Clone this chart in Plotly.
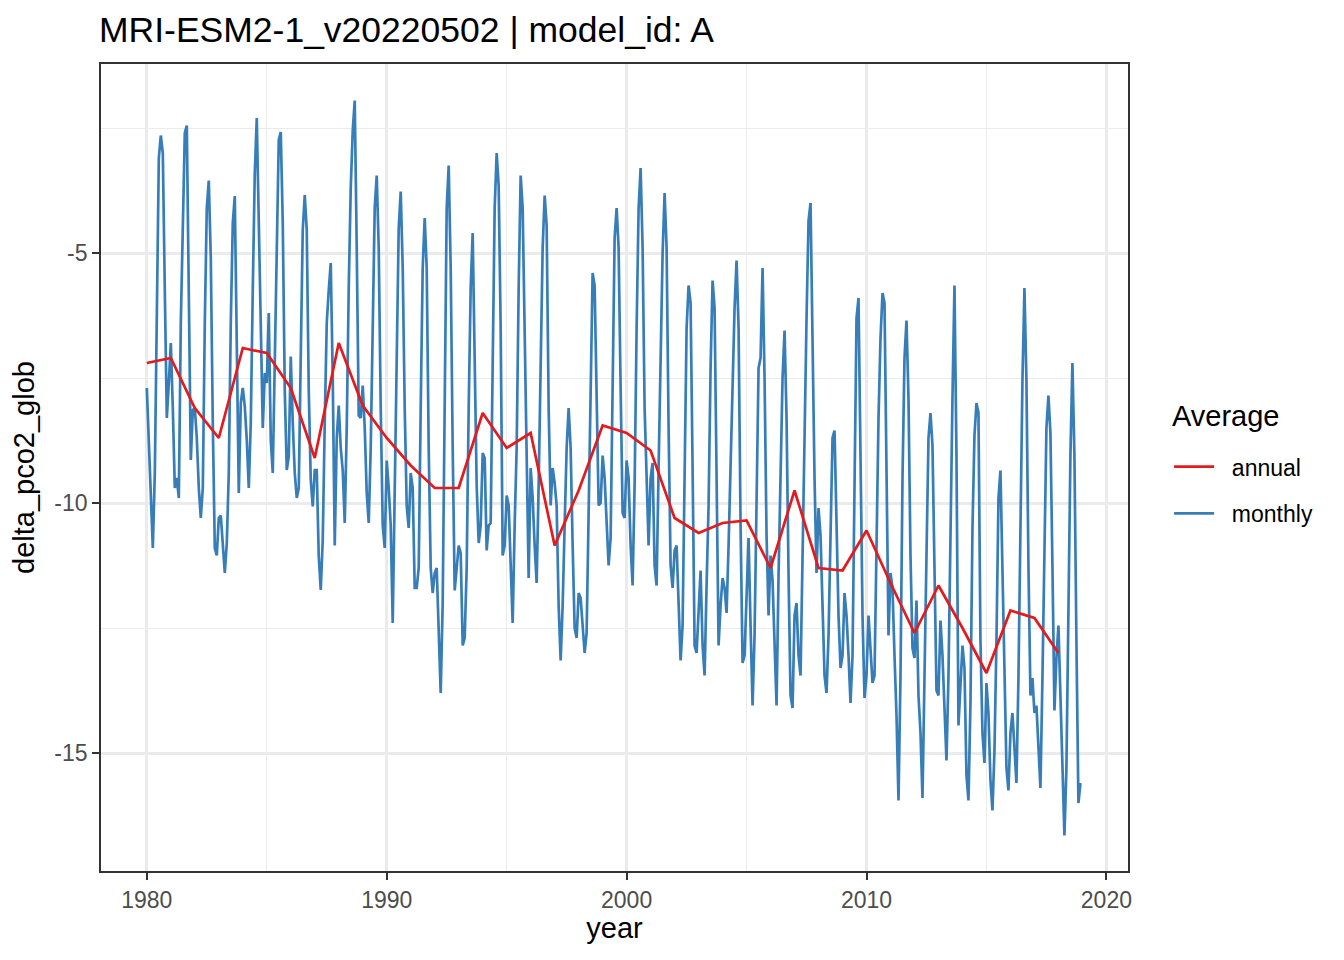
import plotly.graph_objects as go

# annual means, one value per year starting 1980
annual_years = list(range(1980, 2019))
annual_values = [
    -7.2, -7.1, -8.1, -8.7, -6.9, -7.0, -7.7, -9.1, -6.8, -8.05,
    -8.7, -9.25, -9.7, -9.7, -8.2, -8.9, -8.6, -10.85, -9.75, -8.45,
    -8.6, -8.95, -10.3, -10.6, -10.4, -10.35, -11.3, -9.75, -11.3, -11.35,
    -10.55, -11.6, -12.6, -11.65, -12.5, -13.4, -12.15, -12.3, -13.0,
]

# monthly values, 12 per row (Jan..Dec), 1980..2018
monthly_values = [
    -7.7, -8.74, -9.9, -10.9, -9.4, -6.1, -3.1, -2.65, -3.0, -5.75, -8.3, -7.6,
    -6.8, -8.1, -9.7, -9.5, -9.9, -6.4, -4.1, -2.6, -2.45, -6.4, -9.14, -8.14,
    -8.1, -8.7, -9.7, -10.3, -9.7, -6.4, -4.1, -3.55, -5.1, -8.4, -10.9, -11.05,
    -10.3, -10.25, -10.95, -11.4, -10.8, -9.4, -6.4, -4.4, -3.86, -6.7, -9.8, -8.0,
    -7.7, -8.07, -8.74, -9.7, -8.4, -5.74, -3.4, -2.3, -4.4, -7.07, -8.5, -7.4,
    -7.6, -6.2, -8.74, -9.4, -7.07, -4.4, -2.74, -2.58, -4.4, -7.74, -9.34, -9.07,
    -7.07, -8.4, -9.4, -9.9, -9.7, -7.07, -4.54, -3.84, -4.54, -7.74, -9.54, -10.07,
    -9.34, -9.34, -11.07, -11.74, -10.74, -8.4, -6.4, -5.74, -5.2, -7.5, -10.85, -8.7,
    -8.05, -8.9, -9.35, -10.4, -8.5, -5.7, -3.7, -2.55, -1.95, -4.9, -8.25, -8.3,
    -7.65, -8.5, -9.8, -10.4, -8.9, -6.5, -4.1, -3.45, -4.9, -8.1, -10.45, -10.9,
    -9.15, -9.7, -10.45, -12.4, -9.7, -6.5, -4.5, -3.77, -5.3, -8.1, -10.06, -10.5,
    -9.4, -9.7, -11.7, -11.7, -11.3, -8.1, -5.3, -4.3, -5.3, -8.9, -11.3, -11.8,
    -11.4, -11.3, -12.5, -13.8, -12.0, -8.1, -4.1, -3.25, -5.3, -8.9, -11.75, -11.3,
    -10.85, -11.0, -12.85, -12.7, -11.3, -8.1, -5.7, -4.6, -7.3, -9.65, -10.8, -10.45,
    -9.0, -9.1, -10.95, -10.45, -10.4, -7.3, -4.1, -3.0, -3.65, -6.5, -11.05, -10.85,
    -9.85, -10.05, -11.25, -12.4, -10.45, -8.9, -5.7, -3.45, -4.1, -6.5, -8.9, -11.5,
    -9.3, -9.9, -10.85, -11.6, -9.65, -7.3, -4.9, -3.85, -4.45, -8.1, -10.05, -9.3,
    -9.6, -10.05, -12.05, -13.15, -12.05, -10.45, -8.9, -8.1, -8.9, -10.85, -12.5, -12.7,
    -11.8, -11.9, -12.4, -13.0, -12.6, -10.45, -8.1, -5.4, -5.65, -7.7, -10.05, -10.0,
    -9.05, -9.5, -10.45, -11.25, -10.7, -7.3, -4.7, -4.1, -4.9, -7.7, -10.2, -10.3,
    -9.15, -9.5, -10.85, -11.65, -9.65, -6.5, -4.1, -3.3, -4.9, -8.1, -9.5, -10.85,
    -9.5, -9.2, -11.25, -11.65, -9.3, -6.9, -5.0, -3.8, -4.9, -8.5, -11.25, -11.7,
    -10.95, -10.85, -12.05, -13.15, -12.45, -9.65, -6.5, -5.65, -6.0, -9.3, -12.85, -13.0,
    -12.05, -11.35, -12.85, -13.45, -11.65, -10.05, -7.3, -5.55, -6.1, -9.3, -12.85, -12.05,
    -11.5, -11.7, -12.2, -10.85, -9.3, -7.7, -6.1, -5.15, -6.5, -10.45, -13.2, -13.05,
    -11.65, -10.7, -12.45, -14.05, -12.65, -9.9, -7.3, -7.1, -5.3, -7.5, -10.65, -12.25,
    -11.05, -11.55, -13.0, -14.05, -11.45, -9.1, -7.5, -6.55, -8.3, -11.45, -13.85, -14.1,
    -12.25, -12.0, -13.05, -13.45, -11.45, -8.7, -6.3, -4.35, -4.0, -7.1, -9.5, -11.4,
    -10.1, -10.65, -12.25, -13.45, -13.8, -12.65, -10.65, -8.7, -8.55, -10.3, -12.25, -13.3,
    -13.05, -11.8, -12.25, -13.05, -14.0, -13.05, -9.5, -6.3, -5.9, -9.1, -12.25, -13.9,
    -13.45, -12.25, -13.05, -13.6, -13.45, -10.3, -8.3, -6.7, -5.8, -6.0, -9.1, -12.65,
    -11.4, -11.7, -13.05, -14.25, -15.95, -13.45, -9.5, -7.1, -6.35, -7.9, -11.05, -12.9,
    -13.1, -11.95, -13.85, -14.6, -15.9, -13.85, -11.05, -8.7, -8.2, -8.85, -11.05, -13.75,
    -13.85, -12.35, -13.05, -14.25, -15.15, -13.45, -10.3, -7.9, -5.65, -9.05, -14.45, -13.6,
    -12.85, -13.3, -15.45, -15.95, -14.0, -10.5, -8.65, -8.0, -8.2, -12.75, -14.6, -15.2,
    -13.6, -14.2, -15.55, -16.15, -14.95, -12.75, -9.9, -9.35, -11.25, -13.5, -15.3, -15.75,
    -14.6, -14.2, -14.95, -15.6, -13.5, -10.5, -7.55, -5.7, -7.55, -11.25, -13.85, -13.5,
    -14.2, -14.05, -14.95, -15.7, -13.5, -10.5, -8.5, -7.85, -8.6, -11.25, -14.15, -13.1,
    -12.45, -13.85, -15.3, -16.65, -15.3, -12.0, -9.05, -7.2, -9.05, -12.75, -16.0, -15.6,
]
monthly_time = [1980 + i / 12 for i in range(len(monthly_values))]

x_ticks = [1980, 1990, 2000, 2010, 2020]
x_minor = [1985, 1995, 2005, 2015]
y_ticks = [-15, -10, -5]
y_labels = ["-15", "-10", "-5"]
y_minor = [-12.5, -7.5, -2.5]

font = "Liberation Sans, Arial, sans-serif"
grid = "#EBEBEB"
pad = "\u00a0\u00a0"  # small gap between legend key and label, like ggplot

fig = go.Figure()

fig.add_trace(go.Scatter(
    x=monthly_time, y=monthly_values, mode="lines", name=pad + "monthly",
    line=dict(color="#377EB8", width=2.7), legendgroup="monthly", legendrank=2,
))
fig.add_trace(go.Scatter(
    x=annual_years, y=annual_values, mode="lines", name=pad + "annual",
    line=dict(color="#E41A1C", width=2.7), legendgroup="annual", legendrank=1,
))

axis_common = dict(
    showgrid=True, gridcolor=grid, gridwidth=2.6,
    zeroline=False,
    showline=True, linecolor="#333333", linewidth=1.8, mirror=True,
    ticks="outside", ticklen=7, tickwidth=1.8, tickcolor="#333333",
    tickfont=dict(family=font, size=23, color="#4D4D4D"),
)

fig.update_xaxes(
    range=[1978.09, 2020.9], tickvals=x_ticks,
    minor=dict(tickvals=x_minor, showgrid=True, gridcolor=grid, gridwidth=1.3, ticks=""),
    title=dict(text="year", font=dict(family=font, size=29, color="black"), standoff=5),
    **axis_common,
)
fig.update_yaxes(
    range=[-17.36, -1.22], tickvals=y_ticks, ticktext=y_labels,
    minor=dict(tickvals=y_minor, showgrid=True, gridcolor=grid, gridwidth=1.3, ticks=""),
    title=dict(text="delta_pco2_glob", font=dict(family=font, size=29, color="black"), standoff=14),
    **axis_common,
)

# the page body adds ~8px, so margins are shifted to put the panel at 99..1128 x 64..871
fig.update_layout(
    width=1344, height=960,
    margin=dict(l=91, r=224, t=56, b=97),
    plot_bgcolor="white", paper_bgcolor="white",
    title=dict(
        text="MRI-ESM2-1_v20220502 | model_id: A",
        font=dict(family=font, size=35.5, color="black"),
        x=91 / 1344, xanchor="left", xref="container",
        y=1 - 22 / 960, yanchor="middle", yref="container",
    ),
    legend=dict(
        font=dict(family=font, size=23, color="black"),
        x=1.04, xanchor="left", y=0.472, yanchor="middle",
        tracegroupgap=14, itemwidth=40, bgcolor="rgba(0,0,0,0)",
    ),
    annotations=[dict(
        text="Average", xref="paper", yref="paper",
        x=1.041, xanchor="left", y=(871 - 416) / 807, yanchor="middle",
        showarrow=False, font=dict(family=font, size=29, color="black"),
    )],
)

fig.write_html("out.html")
